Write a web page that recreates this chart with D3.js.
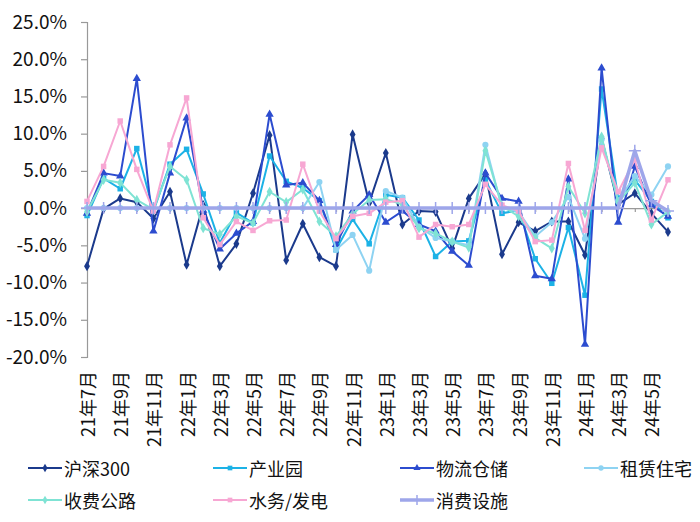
<!DOCTYPE html>
<html>
<head>
<meta charset="utf-8">
<script src="https://cdn.jsdelivr.net/npm/d3@7"></script>
<style>
  body { margin: 0; background: #fff; }
  svg { font-family: "Noto Sans CJK SC", "Noto Sans", sans-serif; }
</style>
</head>
<body>
<div id="chart"></div>
<script>
// months, 21年7月 .. 24年6月
var months = ["21年7月","21年8月","21年9月","21年10月","21年11月","21年12月",
  "22年1月","22年2月","22年3月","22年4月","22年5月","22年6月",
  "22年7月","22年8月","22年9月","22年10月","22年11月","22年12月",
  "23年1月","23年2月","23年3月","23年4月","23年5月","23年6月",
  "23年7月","23年8月","23年9月","23年10月","23年11月","23年12月",
  "24年1月","24年2月","24年3月","24年4月","24年5月","24年6月"];

var names = ["沪深300","产业园","物流仓储","租赁住宅","收费公路","水务/发电","消费设施"];

// monthly returns, %
var hs300 = [-7.8,-0.1,1.3,0.8,-1.4,2.2,-7.6,0.4,-7.8,-4.8,2.0,9.8,-7.0,-2.1,-6.6,-7.8,9.9,0.7,7.4,-2.2,-0.4,-0.5,-5.4,1.3,4.6,-6.2,-1.9,-3.1,-1.8,-1.8,-6.3,9.4,0.5,2.0,-0.7,-3.2];
var industrial = [-1.0,4.0,2.6,8.0,-0.4,5.9,7.9,1.9,-4.7,-0.6,-2.0,7.0,3.6,2.7,1.0,-5.6,-1.5,-4.8,1.8,1.4,-1.6,-6.5,-4.5,-4.4,3.8,-0.7,-0.3,-6.8,-10.1,-2.6,-11.7,16.0,1.3,3.8,0.9,-1.3];
var logistics = [-0.7,4.7,4.3,17.4,-3.1,4.7,12.1,-0.3,-5.5,-3.4,-1.8,12.6,3.1,3.4,1.0,-4.9,-0.4,1.8,-1.9,-0.4,-2.2,-3.1,-5.8,-7.7,4.7,1.3,0.9,-9.1,-9.5,3.9,-18.3,18.8,-1.9,5.6,0.4,-1.1];
var rental = [0,0,0,0,0,0,0,0,0,0,0,0,0,0,3.5,-5.6,-3.6,-8.4,2.3,1.4,-2.5,-4.0,-4.5,-5.0,8.5,0.0,-0.5,-3.8,-1.9,1.5,-4.1,9.2,1.0,4.3,1.8,5.6];
var highway = [-0.5,3.8,3.4,1.1,-0.2,5.6,3.8,-2.7,-3.5,-1.1,-2.0,2.2,0.8,2.5,-1.8,-3.8,-0.8,1.1,1.2,0.5,-2.7,-3.4,-4.5,-5.3,7.7,0.3,-1.1,-4.0,-5.4,2.9,-0.7,9.6,0.8,3.4,-2.2,-0.5];
var energy = [0.9,5.6,11.7,5.2,-0.4,8.5,14.8,-1.3,-4.9,-1.8,-3.0,-1.7,-1.6,5.9,-0.4,-4.1,-1.1,-0.7,0.8,1.0,-3.9,-2.2,-2.5,-2.2,3.2,0.4,-0.4,-4.5,-4.3,6.0,-3.0,8.1,2.2,6.5,-1.6,3.8];
var consumer = [0,0,0,0,0,0,0,0,0,0,0,0,0,0,0,0,0,0,0,0,0,0,0,0,0,0,0,0,0,0,0,0,0,7.7,1.0,-0.4];

var yTicks = [-20,-15,-10,-5,0,5,10,15,20,25];

var seriesData = [hs300, industrial, logistics, rental, highway, energy, consumer];
var colors = ["#1b3a8c","#1cb2e6","#2c4ccf","#8ed3f2","#7fe3d4","#f7a7d3","#9ea6ea"];
var symbols = [d3.symbolDiamond, d3.symbolSquare, d3.symbolTriangle, d3.symbolCircle, d3.symbolDiamond, d3.symbolSquare, null];
var widths = [2, 2, 2, 2, 2, 2, 3.5];

var width = 700, height = 522;
var margin = {top: 22, left: 87, right: 32, bottom: 165};

var svg = d3.select("#chart").append("svg")
    .attr("width", width)
    .attr("height", height);

var x = d3.scalePoint()
    .domain(months)
    .range([margin.left, width - margin.right]);

var y = d3.scaleLinear()
    .domain([-20, 25])
    .range([height - margin.bottom, margin.top]);

// y axis
var yAxis = svg.append("g")
    .attr("transform", "translate(" + margin.left + ",0)")
    .call(d3.axisLeft(y).tickValues(yTicks).tickSize(6).tickPadding(14)
        .tickFormat(d => d.toFixed(1) + "%"));
yAxis.selectAll("path, line").attr("stroke", "#999").attr("stroke-width", 1.2);
yAxis.selectAll("text").attr("font-size", 19).attr("fill", "#111")
    .attr("font-family", "Noto Sans CJK SC");

// x axis line at 0
var xAxis = svg.append("g")
    .attr("transform", "translate(0," + y(0) + ")")
    .call(d3.axisBottom(x).tickValues(months.filter((m, i) => i % 2 == 1)).tickSize(4).tickFormat(""));
xAxis.selectAll("path, line").attr("stroke", "#999").attr("stroke-width", 1.2);

// category labels below plot
svg.append("g")
    .selectAll("text")
    .data(months.filter((m, i) => i % 2 == 0))
    .join("text")
    .attr("transform", d => "translate(" + x(d) + "," + (y(-20) + 14) + ") rotate(-90)")
    .attr("text-anchor", "end")
    .attr("dominant-baseline", "central")
    .attr("font-size", 18)
    .attr("fill", "#111")
    .text(d => d);

var line = d3.line()
    .x((d, i) => x(months[i]))
    .y(d => y(d));

// thin plus marker for 消费设施
function plus(s) {
    return "M" + (-s) + ",0H" + s + "M0," + (-s) + "V" + s;
}

seriesData.forEach(function(vals, k) {
    var g = svg.append("g");
    g.append("path")
        .datum(vals)
        .attr("fill", "none")
        .attr("stroke", colors[k])
        .attr("stroke-width", widths[k])
        .attr("stroke-linejoin", "round")
        .attr("d", line);
    var m = g.selectAll("path.m")
        .data(vals)
        .join("path")
        .attr("class", "m")
        .attr("transform", (d, i) => "translate(" + x(months[i]) + "," + y(d) + ")");
    if (symbols[k]) {
        m.attr("d", d3.symbol().type(symbols[k]).size(30)).attr("fill", colors[k]);
    } else {
        m.attr("d", plus(6)).attr("fill", "none").attr("stroke", colors[k]).attr("stroke-width", 1.5);
    }
});

// legend
var legendPos = [[28, 468], [213, 468], [400, 468], [584, 468], [28, 500], [213, 500], [400, 500]];
var legend = svg.append("g")
    .selectAll("g")
    .data(names)
    .join("g")
    .attr("transform", (d, i) => "translate(" + legendPos[i][0] + "," + legendPos[i][1] + ")");
legend.append("line")
    .attr("x1", 0).attr("x2", 34)
    .attr("stroke", (d, i) => colors[i])
    .attr("stroke-width", (d, i) => widths[i]);
legend.append("path")
    .attr("transform", "translate(17,0)")
    .attr("d", (d, i) => symbols[i] ? d3.symbol().type(symbols[i]).size(22)() : plus(5))
    .attr("fill", (d, i) => symbols[i] ? colors[i] : "none")
    .attr("stroke", (d, i) => symbols[i] ? "none" : colors[i])
    .attr("stroke-width", 1.5);
legend.append("text")
    .attr("x", 36)
    .attr("dominant-baseline", "central")
    .attr("font-size", 18)
    .attr("fill", "#111")
    .text(d => d);
</script>
</body>
</html>
